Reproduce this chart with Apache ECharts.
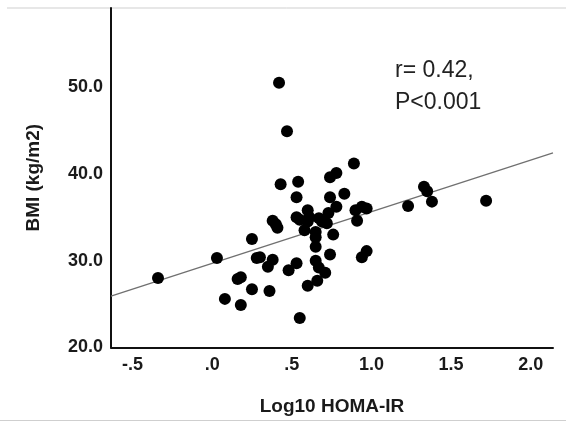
<!DOCTYPE html>
<html><head><meta charset="utf-8">
<script src="https://cdn.jsdelivr.net/npm/echarts@6/dist/echarts.min.js"></script>
<style>html,body{margin:0;padding:0;background:#fff}#c{width:566px;height:423px}</style>
</head><body><div id="c"></div>
<script>
// Data
const homaLog10 = [-0.34,0.03,0.08,0.18,0.16,0.18,0.25,0.25,0.28,0.30,0.35,0.36,0.38,0.38,0.40,0.41,0.43,0.42,0.47,0.48,0.53,0.54,0.53,0.53,0.55,0.55,0.58,0.60,0.61,0.60,0.60,0.65,0.65,0.65,0.65,0.66,0.67,0.69,0.72,0.67,0.71,0.73,0.74,0.78,0.74,0.76,0.74,0.78,0.83,0.89,0.90,0.94,0.97,0.91,0.94,0.97,1.23,1.33,1.35,1.38,1.72];
const bmi = [28.0,30.3,25.6,24.9,27.9,28.1,32.5,26.7,30.3,30.4,29.3,26.5,30.1,34.6,34.2,33.8,38.8,50.5,44.9,28.9,29.7,39.1,37.3,35.0,34.7,23.4,33.5,35.8,35.0,34.5,27.1,33.3,32.7,31.6,30.0,27.7,34.9,34.5,34.3,29.2,28.6,35.5,39.6,40.1,37.3,33.0,30.7,36.2,37.7,41.2,35.8,36.2,36.0,34.6,30.4,31.1,36.3,38.5,38.0,36.8,36.9];
const xTickValues = [-0.5, 0, 0.5, 1.0, 1.5, 2.0];
const xTickLabels = ['-.5', '.0', '.5', '1.0', '1.5', '2.0'];
const yTickValues = [20, 30, 40, 50];
const yTickLabels = ['20.0', '30.0', '40.0', '50.0'];
const fitIntercept = 29.7;
const fitSlope = 5.94;
const xRange = [-0.635, 2.14];
const yRange = [20, 59.1];
const annotation = ['r= 0.42,', 'P<0.001'];

const points = homaLog10.map((x, i) => [x, bmi[i]]);
const fitLine = xRange.map(x => [x, fitIntercept + fitSlope * x]);

const chart = echarts.init(document.getElementById('c'), null, {renderer: 'canvas'});
const lblStyle = {fontFamily: 'Liberation Sans, Arial, sans-serif', fontWeight: 'bold', fontSize: 18, color: '#1a1a1a'};
chart.setOption({
  animation: false,
  backgroundColor: '#fff',
  grid: {left: 111, top: 8, right: 13, bottom: 75.5, containLabel: false},
  xAxis: {
    type: 'value', min: xRange[0], max: xRange[1],
    name: 'Log10 HOMA-IR', nameLocation: 'middle', nameGap: 50,
    nameTextStyle: Object.assign({}, lblStyle, {fontSize: 19}),
    axisLine: {show: true, onZero: false, lineStyle: {color: '#111', width: 2}},
    axisTick: {show: false},
    splitLine: {show: false},
    axisLabel: Object.assign({}, lblStyle, {margin: 9, customValues: xTickValues,
      formatter: v => { const i = xTickValues.findIndex(t => Math.abs(t - v) < 1e-9); return i >= 0 ? xTickLabels[i] : ''; }})
  },
  yAxis: {
    type: 'value', min: yRange[0], max: yRange[1],
    name: 'BMI (kg/m2)', nameLocation: 'middle', nameGap: 68,
    nameTextStyle: Object.assign({}, lblStyle, {fontSize: 19}),
    axisLine: {show: true, onZero: false, lineStyle: {color: '#111', width: 2}},
    axisTick: {show: false},
    splitLine: {show: false},
    axisLabel: Object.assign({}, lblStyle, {margin: 8, customValues: yTickValues,
      formatter: v => { const i = yTickValues.findIndex(t => Math.abs(t - v) < 1e-9); return i >= 0 ? yTickLabels[i] : ''; }})
  },
  series: [
    {type: 'line', data: fitLine, symbol: 'none', lineStyle: {color: '#707070', width: 1.3}, z: 1},
    {type: 'scatter', data: points, symbol: 'circle', symbolSize: 12, itemStyle: {color: '#000', opacity: 1}, z: 2}
  ],
  graphic: [
    {type: 'line', shape: {x1: 7, y1: 8, x2: 566, y2: 8}, style: {stroke: '#cfcfcf', lineWidth: 1}, z: 0},
    {type: 'line', shape: {x1: 0, y1: 420.5, x2: 566, y2: 420.5}, style: {stroke: '#cfcfcf', lineWidth: 1}, z: 0},
    {type: 'text', left: 395, top: 55, style: {text: annotation.join('\n'), textAlign: 'left', font: '23px "Liberation Sans", Arial, sans-serif', fill: '#222', lineHeight: 32}}
  ]
});
</script></body></html>
